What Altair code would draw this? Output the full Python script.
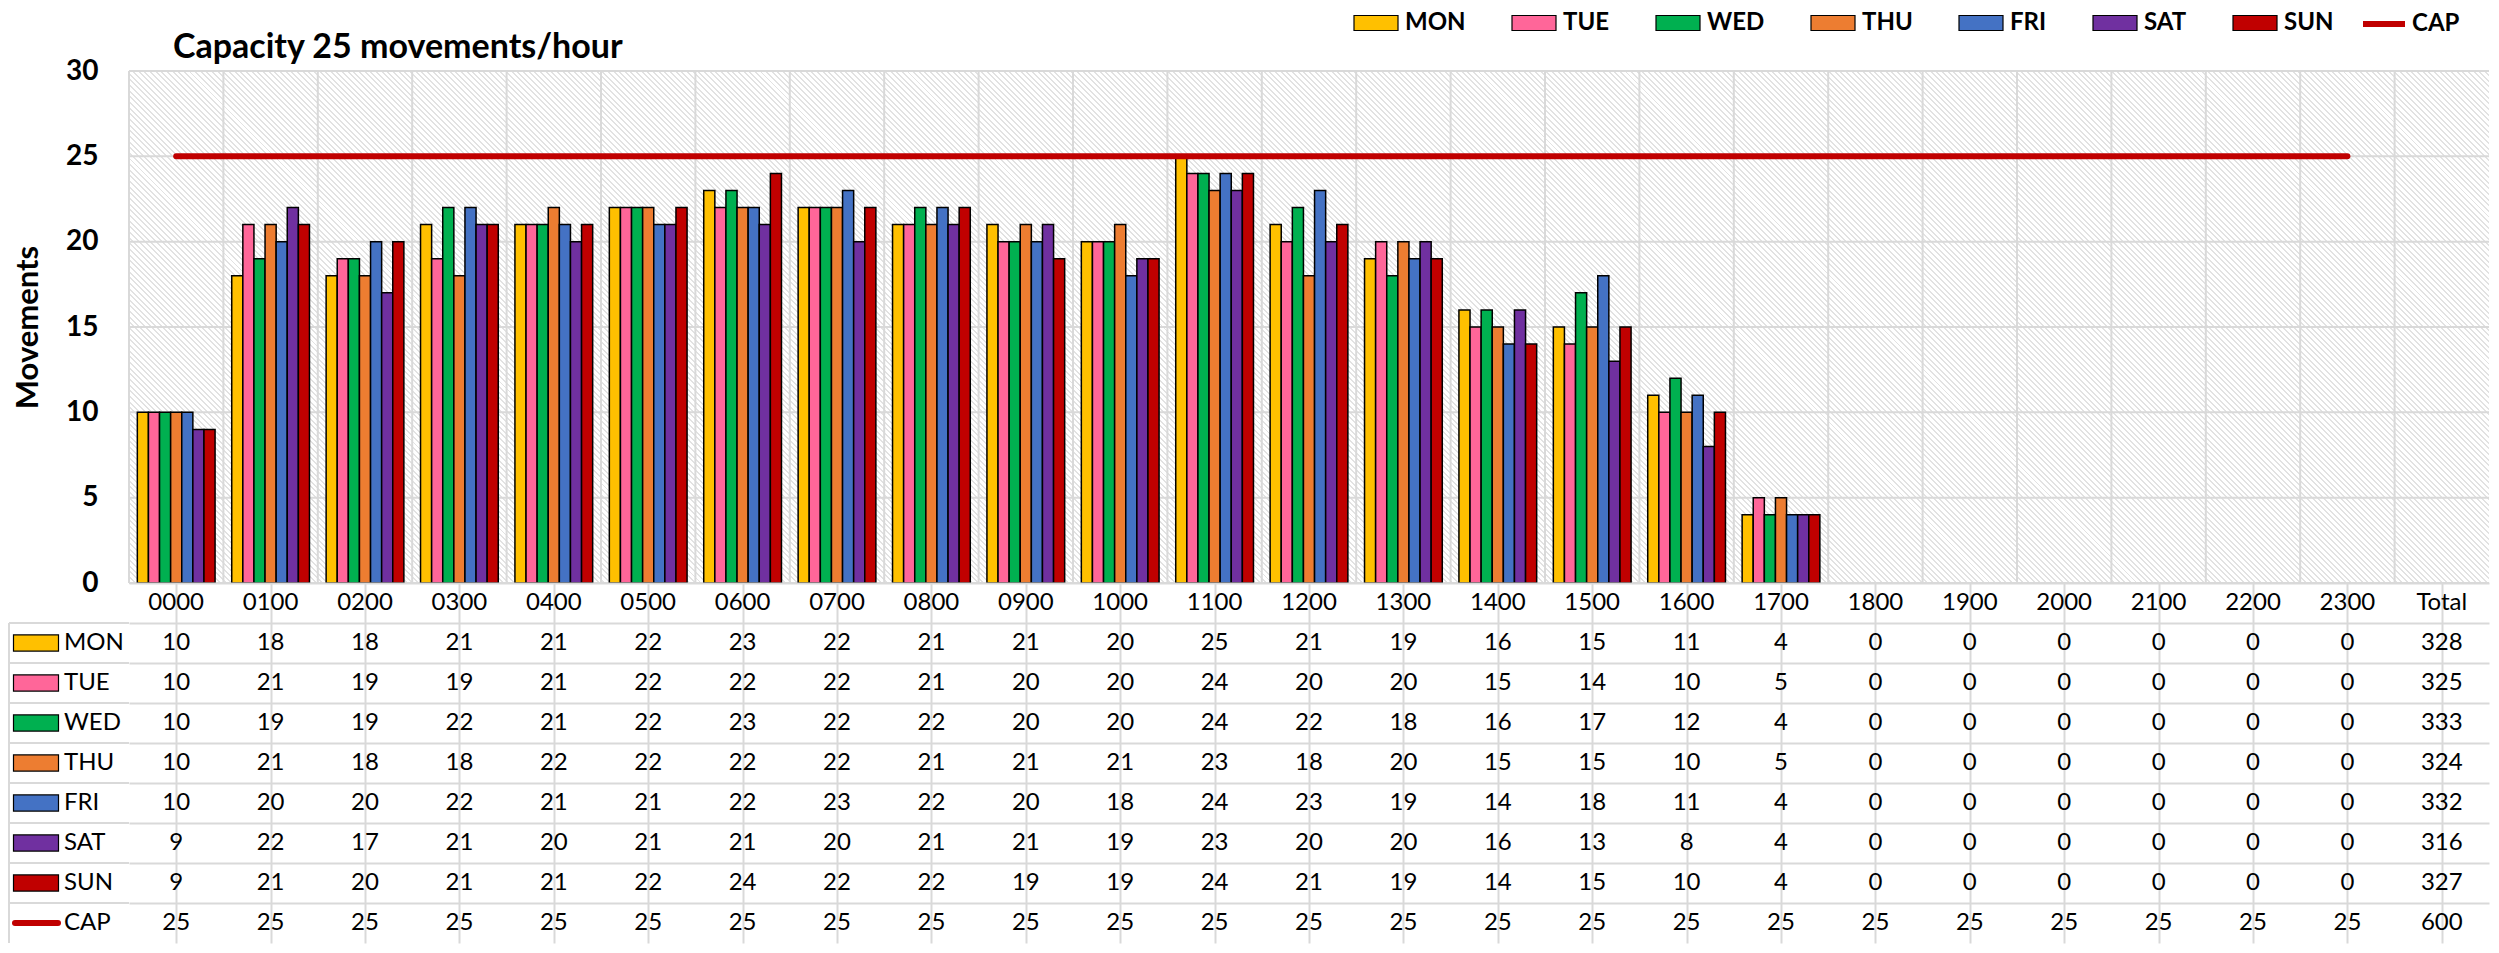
import math
import altair as alt
import pandas as pd

# ---------------- data ----------------
TITLE = "Capacity 25 movements/hour"
HOURS = ["0000", "0100", "0200", "0300", "0400", "0500", "0600", "0700",
         "0800", "0900", "1000", "1100", "1200", "1300", "1400", "1500",
         "1600", "1700", "1800", "1900", "2000", "2100", "2200", "2300"]
COLS = HOURS + ["Total"]
DAYS = ["MON", "TUE", "WED", "THU", "FRI", "SAT", "SUN"]

MON = [10, 18, 18, 21, 21, 22, 23, 22, 21, 21, 20, 25, 21, 19, 16, 15, 11, 4, 0, 0, 0, 0, 0, 0]
TUE = [10, 21, 19, 19, 21, 22, 22, 22, 21, 20, 20, 24, 20, 20, 15, 14, 10, 5, 0, 0, 0, 0, 0, 0]
WED = [10, 19, 19, 22, 21, 22, 23, 22, 22, 20, 20, 24, 22, 18, 16, 17, 12, 4, 0, 0, 0, 0, 0, 0]
THU = [10, 21, 18, 18, 22, 22, 22, 22, 21, 21, 21, 23, 18, 20, 15, 15, 10, 5, 0, 0, 0, 0, 0, 0]
FRI = [10, 20, 20, 22, 21, 21, 22, 23, 22, 20, 18, 24, 23, 19, 14, 18, 11, 4, 0, 0, 0, 0, 0, 0]
SAT = [9, 22, 17, 21, 20, 21, 21, 20, 21, 21, 19, 23, 20, 20, 16, 13, 8, 4, 0, 0, 0, 0, 0, 0]
SUN = [9, 21, 20, 21, 21, 22, 24, 22, 22, 19, 19, 24, 21, 19, 14, 15, 10, 4, 0, 0, 0, 0, 0, 0]
CAP = [25] * 24
TOTALS = {"MON": 328, "TUE": 325, "WED": 333, "THU": 324, "FRI": 332,
          "SAT": 316, "SUN": 327, "CAP": 600}
Y_TICKS = [0, 5, 10, 15, 20, 25, 30]

COLORS = ["#FFC000", "#FF6699", "#00B050", "#ED7D31", "#4472C4", "#7030A0", "#C00000"]
CAP_COLOR = "#C00000"
GRID = "#d9d9d9"
FONT = "Lato"

SERIES = dict(zip(DAYS, [MON, TUE, WED, THU, FRI, SAT, SUN]))

# ---------------- layout sizes ----------------
W = 2360
H_TOP = 512
H_TAB = 360


def hatch(w, h, period=4.0, frac=0.35, c_line="#e2e2e2", c_bg="#ffffff"):
    ext = (w + h) / math.sqrt(2)
    n = int(round(ext / period))
    stops = []
    for k in range(n):
        a = k / n
        b = (k + frac) / n
        c = (k + 1) / n
        stops += [alt.GradientStop(offset=a, color=c_line),
                  alt.GradientStop(offset=b, color=c_line),
                  alt.GradientStop(offset=b, color=c_bg),
                  alt.GradientStop(offset=c, color=c_bg)]
    r = h / w
    s = (1 + r) / (1 + r * r)
    return alt.LinearGradient(gradient="linear", stops=stops,
                              x1=0, y1=1, x2=s, y2=1 - s * r)


bars_df = pd.DataFrame([
    {"hour": h, "day": d, "value": v}
    for d in DAYS for h, v in zip(HOURS, SERIES[d])
])
cap_df = pd.DataFrame({"hour": HOURS, "cap": CAP, "series": ["CAP"] * len(HOURS)})
ytick_df = pd.DataFrame({"v": Y_TICKS})
col_df = pd.DataFrame({"hour": COLS})
one_df = pd.DataFrame({"t": [TITLE]})

xscale = alt.Scale(domain=COLS, paddingInner=0, paddingOuter=0)
yscale = alt.Scale(domain=[0, 30], nice=False)

x_axis_top = alt.Axis(title=None, labels=False, ticks=False, domain=False, grid=False)
y_axis = alt.Axis(title="Movements", values=Y_TICKS,
                  labelFont=FONT, labelFontSize=28, labelFontWeight="bold",
                  labelColor="black", labelPadding=31, ticks=False, domain=False,
                  grid=False,
                  titleFont=FONT, titleFontSize=31, titleFontWeight="bold",
                  titleColor="black", titlePadding=21)

bg = alt.Chart(one_df).mark_rect(fill=hatch(W, H_TOP), strokeWidth=0).encode(
    x=alt.value(0), x2=alt.value(W), y=alt.value(0), y2=alt.value(H_TOP)
)

title_mark = alt.Chart(one_df).mark_text(
    align="left", baseline="alphabetic", font=FONT, fontSize=34,
    fontWeight="bold", color="black"
).encode(x=alt.value(44), y=alt.value(-13), text="t:N")

hgrid = alt.Chart(ytick_df).mark_rule(color=GRID, strokeWidth=2).encode(
    y=alt.Y("v:Q", scale=yscale, axis=y_axis)
)
vgrid = alt.Chart(col_df).mark_rule(color=GRID, strokeWidth=2).encode(
    x=alt.X("hour:N", bandPosition=0, scale=xscale, axis=x_axis_top)
)

LEGEND_Y = -60

bars = alt.Chart(bars_df).transform_filter("datum.value > 0").mark_bar(
    stroke="black", strokeWidth=1.5
).encode(
    x=alt.X("hour:N", scale=xscale, axis=x_axis_top),
    xOffset=alt.XOffset("day:N", scale=alt.Scale(domain=DAYS, paddingInner=0, paddingOuter=0.75)),
    y=alt.Y("value:Q", scale=yscale, axis=y_axis),
    fill=alt.Fill("day:N", scale=alt.Scale(domain=DAYS, range=COLORS),
                  legend=alt.Legend(title=None, orient="none", legendX=1223, legendY=LEGEND_Y,
                                    direction="horizontal",
                                    symbolType="M-1,-0.75H3.4V0.75H-1Z", symbolSize=400,
                                    symbolStrokeColor="black", symbolStrokeWidth=1.2,
                                    symbolOpacity=1,
                                    labelFont=FONT, labelFontSize=24, labelFontWeight="bold",
                                    labelColor="black", labelOffset=29, columnPadding=43,
                                    padding=0)),
)

cap_line = alt.Chart(cap_df).mark_line(strokeWidth=6, strokeCap="round").encode(
    x=alt.X("hour:N", scale=xscale, axis=x_axis_top),
    y=alt.Y("cap:Q", scale=yscale, axis=y_axis),
    stroke=alt.Stroke("series:N", scale=alt.Scale(domain=["CAP"], range=[CAP_COLOR]),
                      legend=alt.Legend(title=None, orient="none", legendX=2231, legendY=LEGEND_Y,
                                        symbolType="M-1,0H3.2", symbolSize=400,
                                        symbolStrokeWidth=6, symbolFillColor="transparent",
                                        labelFont=FONT, labelFontSize=24,
                                        labelFontWeight="bold", labelColor="black",
                                        labelOffset=26, padding=0)),
)

top = alt.layer(bg, hgrid, vgrid, bars, cap_line, title_mark).properties(
    width=W, height=H_TOP,
    view=alt.ViewBackground(stroke=None),
)

# ---------------- data table ----------------
ROWS = ["hdr"] + DAYS + ["CAP"]
tab_rows = []
for c in COLS:
    tab_rows.append({"row": "hdr", "col": c, "label": c})
for d in DAYS + ["CAP"]:
    vals = SERIES[d] if d in SERIES else CAP
    for h, v in zip(HOURS, vals):
        tab_rows.append({"row": d, "col": h, "label": str(v)})
    tab_rows.append({"row": d, "col": "Total", "label": str(TOTALS[d])})
table_df = pd.DataFrame(tab_rows)

yscale_tab = alt.Scale(domain=ROWS, paddingInner=0, paddingOuter=0)
tab_x_axis = alt.Axis(title=None, labels=False, ticks=False, domain=False,
                      grid=True, bandPosition=0, gridColor=GRID, gridWidth=2)
tab_y_axis = alt.Axis(title=None, labels=False, ticks=False, domain=False,
                      grid=True, bandPosition=0, gridColor=GRID, gridWidth=2)

cells = alt.Chart(table_df).mark_text(font=FONT, fontSize=24, color="black",
                                      baseline="middle").encode(
    x=alt.X("col:N", scale=xscale, axis=tab_x_axis),
    y=alt.Y("row:N", scale=yscale_tab, axis=tab_y_axis),
    text="label:N",
)

lab_df = pd.DataFrame({"row": DAYS + ["CAP"]})
day_df = pd.DataFrame({"row": DAYS})
cap_row_df = pd.DataFrame({"row": ["CAP"]})
mon_df = pd.DataFrame({"row": ["MON"]})

row_labels = alt.Chart(lab_df).mark_text(align="left", baseline="middle", font=FONT,
                                         fontSize=24, color="black").encode(
    x=alt.value(-65),
    y=alt.Y("row:N", scale=yscale_tab, axis=tab_y_axis),
    text="row:N",
)

swatches = alt.Chart(day_df).mark_point(
    shape="M-1,-0.36H1V0.36H-1Z", size=2025, filled=True, opacity=1,
    stroke="black", strokeWidth=1.2
).encode(
    x=alt.value(-93),
    y=alt.Y("row:N", scale=yscale_tab, axis=tab_y_axis),
    fill=alt.Fill("row:N", scale=alt.Scale(domain=DAYS, range=COLORS), legend=None),
)

cap_swatch = alt.Chart(cap_row_df).mark_rule(strokeWidth=6, strokeCap="round",
                                              color=CAP_COLOR).encode(
    x=alt.value(-114), x2=alt.value(-71),
    y=alt.Y("row:N", scale=yscale_tab, axis=tab_y_axis),
)

hlines = alt.Chart(lab_df).mark_rule(color=GRID, strokeWidth=2).encode(
    x=alt.value(-120), x2=alt.value(0),
    y=alt.Y("row:N", bandPosition=0, scale=yscale_tab, axis=tab_y_axis),
)

vline = alt.Chart(mon_df).mark_rule(color=GRID, strokeWidth=2).encode(
    x=alt.value(-120),
    y=alt.Y("row:N", bandPosition=0, scale=yscale_tab, axis=tab_y_axis),
    y2=alt.value(H_TAB),
)

table = alt.layer(hlines, vline, cells, row_labels, swatches, cap_swatch).properties(
    width=W, height=H_TAB,
    view=alt.ViewBackground(stroke=None),
)

chart = alt.vconcat(top, table, spacing=0, bounds="flush",
                    padding={"top": 3, "left": 0, "right": 0, "bottom": 0}).resolve_scale(
    fill="independent"
).configure(font=FONT)

chart.save("out.html", embed_options={"renderer": "svg", "actions": False})
